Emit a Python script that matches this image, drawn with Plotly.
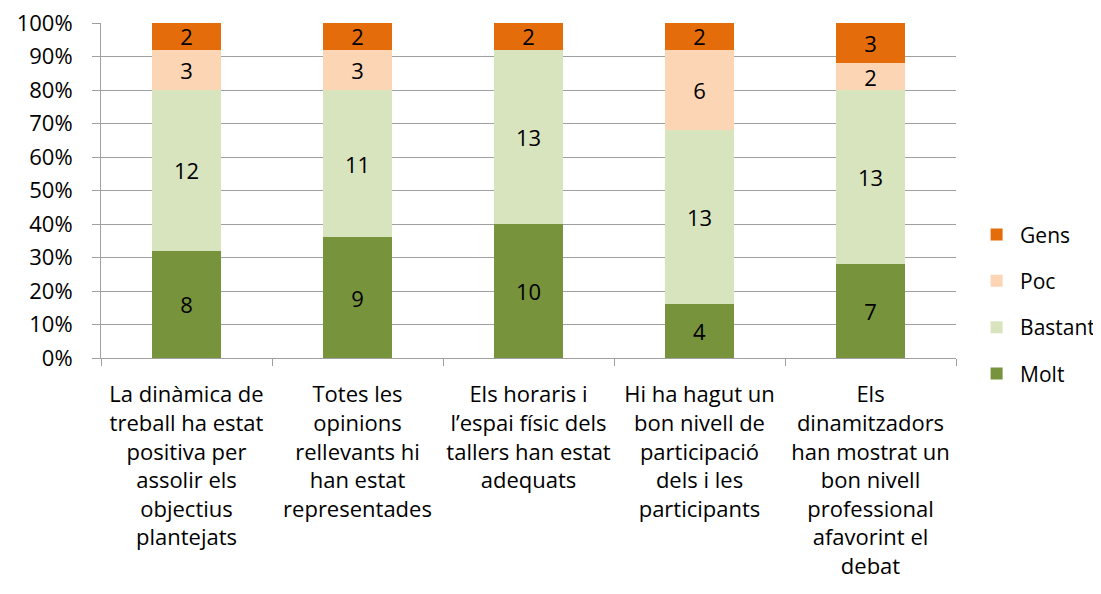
import plotly.graph_objects as go

# categories (x-axis labels, with Excel-style wrapping)
categories = [
    "La dinàmica de<br>treball ha estat<br>positiva per<br>assolir els<br>objectius<br>plantejats",
    "Totes les<br>opinions<br>rellevants hi<br>han estat<br>representades",
    "Els horaris i<br>l’espai físic dels<br>tallers han estat<br>adequats",
    "Hi ha hagut un<br>bon nivell de<br>participació<br>dels i les<br>participants",
    "Els<br>dinamitzadors<br>han mostrat un<br>bon nivell<br>professional<br>afavorint el<br>debat",
]

# counts per answer
molt = [8, 9, 10, 4, 7]
bastant = [12, 11, 13, 13, 13]
poc = [3, 3, 0, 6, 2]
gens = [2, 2, 2, 2, 3]

y_ticks = list(range(0, 101, 10))
y_labels = [f"{t}%" for t in y_ticks]

series = [
    ("Molt", molt, "#77933C", 4),
    ("Bastant", bastant, "#D7E4BD", 3),
    ("Poc", poc, "#FCD5B5", 2),
    ("Gens", gens, "#E46C0A", 1),
]

FONT = "Open Sans"
FS = 22

fig = go.Figure()
for name, vals, color, rank in series:
    fig.add_trace(go.Bar(
        x=categories,
        y=vals,
        name=name,
        legendgroup=name,
        legendrank=rank,
        marker=dict(color=color, line=dict(width=0)),
        text=[str(v) if v else "" for v in vals],
        textposition="inside",
        insidetextanchor="middle",
        textangle=0,
        textfont=dict(family=FONT, size=FS, color="black"),
    ))

# page body adds an 8px offset, margins compensate for it
fig.update_layout(
    barmode="stack",
    barnorm="percent",
    bargap=0.6,
    width=1101,
    height=594,
    margin=dict(l=93, r=153, t=15, b=244, autoexpand=False),
    plot_bgcolor="white",
    paper_bgcolor="white",
    font=dict(family=FONT, size=FS, color="black"),
    legend=dict(
        traceorder="grouped",
        tracegroupgap=16,
        x=1.02, xanchor="left",
        y=0.16, yanchor="middle",
        font=dict(size=21),
        itemwidth=37,
    ),
    uniformtext=dict(minsize=FS, mode="show"),
)

fig.update_yaxes(
    range=[0, 100],
    tickvals=y_ticks,
    ticktext=y_labels,
    showgrid=True,
    gridcolor="#A0A0A0",
    gridwidth=1,
    showline=True,
    linecolor="#A0A0A0",
    ticks="outside",
    ticklen=8,
    tickcolor="#A0A0A0",
    ticklabelstandoff=15,
    ticklabeloverflow="allow",
    zeroline=False,
    automargin=False,
    tickfont=dict(size=22),
)
fig.update_xaxes(
    showline=True,
    linecolor="#A0A0A0",
    ticks="outside",
    tickson="boundaries",
    ticklen=7,
    tickcolor="#A0A0A0",
    ticklabelstandoff=17,
    tickangle=0,
    automargin=False,
    tickfont=dict(size=FS),
)

fig.write_html("out.html")
